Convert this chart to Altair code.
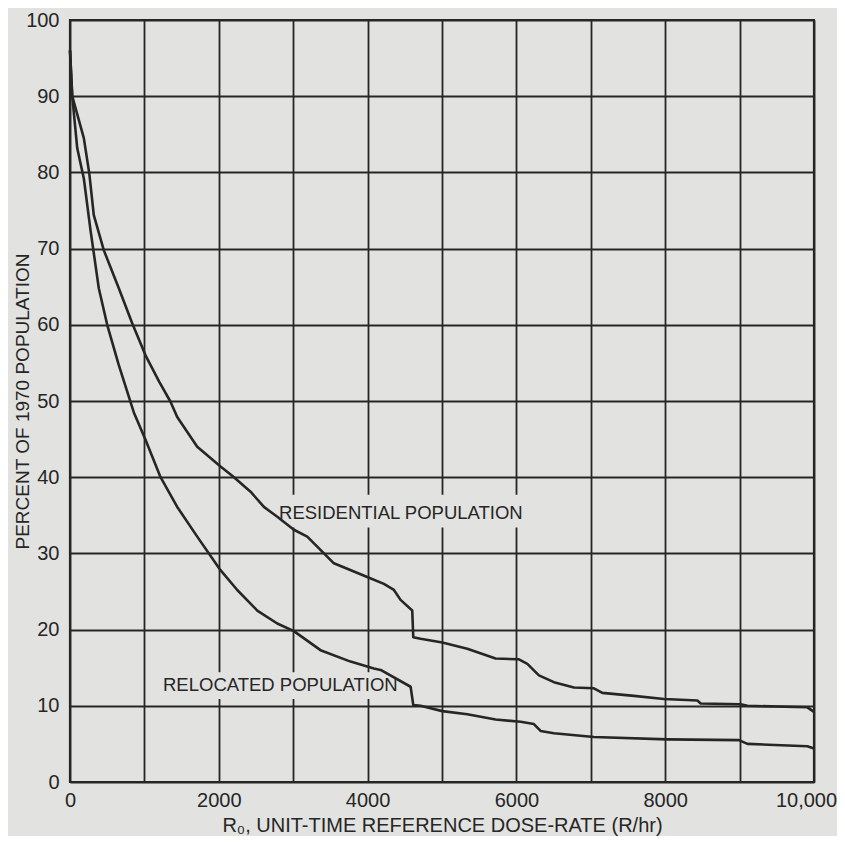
import altair as alt
import pandas as pd

# ---- data ----
res_x = [0, 30, 186, 260, 320, 454, 656, 836, 1015, 1200, 1351, 1441, 1710, 2023,
         2180, 2427, 2606, 2786, 3009, 3189, 3547, 3995, 4219, 4354, 4443, 4600,
         4614, 4712, 5004, 5340, 5720, 6034, 6147, 6303, 6504, 6773, 7042, 7155,
         7580, 7983, 8432, 8477, 9015, 9105, 9911, 10000]
res_y = [96, 90, 84.5, 79.8, 74.4, 69.8, 64.8, 60.2, 56.0, 52.5, 49.9, 47.9, 44.0, 41.4,
         40.2, 38.1, 36.1, 34.8, 33.1, 32.2, 28.7, 26.9, 26.0, 25.2, 23.9, 22.5,
         19.0, 18.8, 18.3, 17.5, 16.2, 16.1, 15.5, 14.0, 13.1, 12.4, 12.3, 11.7,
         11.3, 10.9, 10.7, 10.3, 10.2, 10.0, 9.8, 9.2]

rel_x = [0, 30, 97, 141, 186, 276, 387, 500, 656, 858, 1015, 1217, 1441, 1710, 2023,
         2248, 2517, 2786, 3009, 3367, 3771, 4084, 4175, 4578, 4614, 4712, 5004,
         5340, 5720, 6057, 6235, 6325, 6504, 7042, 8029, 8992, 9105, 9911, 10000]
rel_y = [96, 90, 83.2, 81.2, 79.2, 72.4, 64.8, 60.0, 54.7, 48.5, 44.9, 40.0, 36.1, 32.2, 27.8,
         25.2, 22.5, 20.8, 19.8, 17.3, 15.8, 14.9, 14.7, 12.5, 10.1, 10.0, 9.3,
         8.9, 8.2, 7.9, 7.6, 6.7, 6.4, 5.9, 5.6, 5.5, 5.0, 4.7, 4.4]

label_text = ["RESIDENTIAL POPULATION", "RELOCATED POPULATION"]
label_x = [2810, 1250]
label_y = [35.3, 12.7]
box_x1 = [2760, 1190]
box_x2 = [6130, 4290]
box_y1 = [33.4, 10.9]
box_y2 = [37.7, 14.4]

x_ticks = list(range(0, 10001, 1000))
y_ticks = list(range(0, 101, 10))

# ---- styling ----
BG = "#e2e2e0"
INK = "#262626"
FONT = "Liberation Sans, Arial, sans-serif"

rows = []
for x, y in zip(res_x, res_y):
    rows.append({"series": "Residential", "x": x, "y": y})
for x, y in zip(rel_x, rel_y):
    rows.append({"series": "Relocated", "x": x, "y": y})
df = pd.DataFrame(rows)

labels = pd.DataFrame({"text": label_text, "x": label_x, "y": label_y,
                       "x1": box_x1, "x2": box_x2, "y1": box_y1, "y2": box_y2})

xscale = alt.Scale(domain=[0, 10000], nice=False, zero=False)
yscale = alt.Scale(domain=[0, 100], nice=False)

xaxis = alt.Axis(
    values=x_ticks,
    labelExpr="datum.value == 10000 ? '10,000' : (datum.value % 2000 == 0 ? '' + datum.value : '')",
    labelOffset={"condition": {"test": "datum.value == 10000", "value": -8}, "value": 0},
    title="R₀, UNIT-TIME REFERENCE DOSE-RATE (R/hr)",
    titleY=49, titleBaseline="alphabetic", titleFontSize=20,
    labelPadding=8, labelOverlap=False, labelBound=False, labelFlush=False,
)
yaxis = alt.Axis(
    values=y_ticks,
    title="PERCENT OF 1970 POPULATION",
    titleX=-42, titleBaseline="alphabetic", titleFontSize=19,
    labelPadding=11, labelOverlap=False,
)

boxes = alt.Chart(labels).mark_rect(color=BG).encode(
    x=alt.X("x1:Q", scale=xscale, axis=xaxis),
    x2="x2:Q",
    y=alt.Y("y1:Q", scale=yscale, axis=yaxis),
    y2="y2:Q",
)

lines = alt.Chart(df).mark_line(color=INK, strokeWidth=2.6, strokeJoin="round").encode(
    x=alt.X("x:Q", scale=xscale),
    y=alt.Y("y:Q", scale=yscale),
    detail="series:N",
    order="x:Q",
)

texts = alt.Chart(labels).mark_text(
    align="left", baseline="middle", font=FONT, fontSize=18.5, color=INK
).encode(
    x=alt.X("x:Q", scale=xscale),
    y=alt.Y("y:Q", scale=yscale),
    text="text:N",
)

chart = alt.layer(boxes, lines, texts).properties(
    width=744, height=762,
    background=BG,
    autosize=alt.AutoSizeParams(type="none"),
    padding={"left": 62, "top": 12, "right": 23, "bottom": 54},
).configure_view(
    stroke=INK, strokeWidth=2.2,
).configure_axis(
    grid=True, gridColor=INK, gridWidth=1.8, gridOpacity=1,
    domain=False, ticks=False,
    labelFont=FONT, labelFontSize=20, labelColor=INK,
    titleFont=FONT, titleColor=INK, titleFontWeight="normal",
)

chart.save("out.html", embed_options={"renderer": "svg", "actions": False})
